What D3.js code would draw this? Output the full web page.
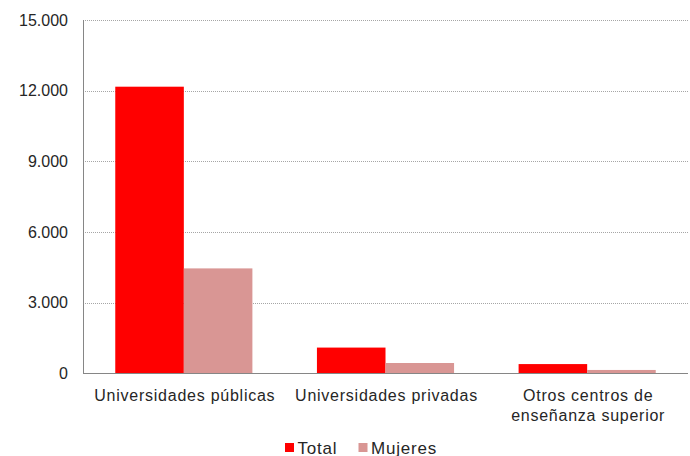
<!DOCTYPE html>
<html><head><meta charset="utf-8">
<script src="https://cdn.jsdelivr.net/npm/d3@7"></script>
<style>body{margin:0;background:#fff}svg{display:block}text{font-family:"Liberation Sans",Arial,sans-serif;fill:#262626}</style>
</head><body><svg id="c" width="690" height="456"></svg>
<script>
const categories = [["Universidades públicas"], ["Universidades privadas"], ["Otros centros de", "enseñanza superior"]];
const seriesNames = ["Total", "Mujeres"];
const totalValues = [12170, 1100, 400];
const mujeresValues = [4460, 445, 150];
const yTicks = [0, 3000, 6000, 9000, 12000, 15000];
const colors = ["#FF0000", "#D99694"];

const svg = d3.select("#c");
const m = {l: 83, r: 688, t: 20, b: 373.5};
const fs = 16;
const y = d3.scaleLinear().domain([0, 15000]).range([m.b, m.t]);
const keys = categories.map((c, i) => i);
const x0 = d3.scaleBand().domain(keys).range([m.l, m.r]).paddingInner(0.32).paddingOuter(0.16);
const x1 = d3.scaleBand().domain([0, 1]).range([0, x0.bandwidth()]);

const fmt = v => d3.format(",")(v).replace(/,/g, ".");

// gridlines
svg.append("g").selectAll("line").data(yTicks.filter(d => d > 0)).join("line")
  .attr("x1", m.l).attr("x2", m.r).attr("y1", d => Math.round(y(d)) + 0.5).attr("y2", d => Math.round(y(d)) + 0.5)
  .attr("stroke", "#a6a6a6").attr("stroke-dasharray", "1,1");

// bars
const data = [totalValues, mujeresValues];
data.forEach((vals, s) => {
  svg.append("g").selectAll("rect").data(vals).join("rect")
    .attr("x", (d, i) => x0(i) + x1(s)).attr("width", x1.bandwidth())
    .attr("y", d => y(d)).attr("height", d => y(0) - y(d)).attr("fill", colors[s]);
});

// axes lines
svg.append("line").attr("x1", m.l + 0.5).attr("x2", m.l + 0.5).attr("y1", m.t).attr("y2", m.b).attr("stroke", "#868686");
svg.append("line").attr("x1", m.l).attr("x2", m.r).attr("y1", m.b).attr("y2", m.b).attr("stroke", "#868686");

// y labels
const yAxis = d3.axisLeft(y).tickValues(yTicks).tickFormat(fmt).tickSize(0).tickPadding(15);
const ga = svg.append("g").attr("transform", `translate(${m.l},0)`).call(yAxis);
ga.select(".domain").remove();
ga.selectAll("text").attr("font-size", fs).attr("font-family", "Liberation Sans, Arial").attr("fill", "#262626");

// x labels
const xl = svg.append("g").selectAll("text").data(categories).join("text")
  .attr("text-anchor", "middle").attr("font-size", fs).attr("letter-spacing", "0.75px")
  .attr("x", (d, i) => x0(i) + x0.bandwidth() / 2 + 1).attr("y", 400.5);
xl.selectAll("tspan").data(d => d).join("tspan")
  .attr("x", function() { return this.parentNode.getAttribute("x"); })
  .attr("dy", (d, i) => i === 0 ? 0 : 20).text(d => d);

// legend
const lg = svg.append("g");
const lx = [285, 358.5];
seriesNames.forEach((n, i) => {
  lg.append("rect").attr("x", lx[i]).attr("y", 443).attr("width", 9).attr("height", 9).attr("fill", colors[i]);
  lg.append("text").attr("x", lx[i] + 12.5).attr("y", 453.5).attr("font-size", 17)
    .attr("letter-spacing", "0.8px").text(n);
});
</script></body></html>
